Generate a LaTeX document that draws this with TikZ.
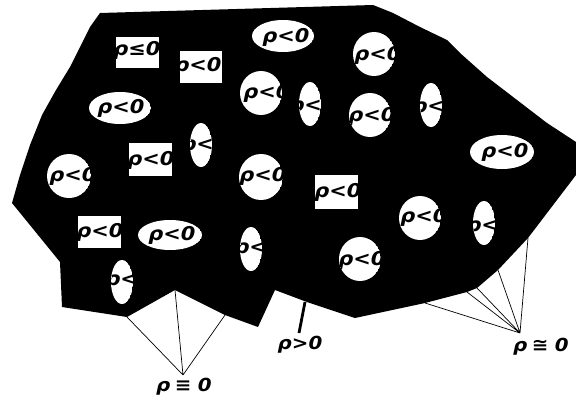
\documentclass[tikz,border=0pt]{standalone}
\usepackage{fontspec}
\usepackage{graphicx}
\newfontfamily\labfont{DejaVu Sans}
\tikzset{
  txt/.style={inner sep=0pt, font=\labfont\bfseries\itshape\fontsize{19}{19}\selectfont},
  lab/.style={inner sep=0pt, font=\labfont\bfseries\itshape\fontsize{18}{18}\selectfont},
  thinline/.style={line width=0.7pt},
  thickline/.style={line width=2.8pt}
}
\newcommand\wtext[1]{\scalebox{1.1}[1]{#1}}
% ellipse hole: name, cx, cy, rx, ry, tx, ty, text
\newcommand\holeE[8]{%
  \begin{scope}
    \clip (#2,#3) ellipse [x radius=#4pt, y radius=#5pt];
    \fill[white] (#2,#3) ellipse [x radius=#4pt, y radius=#5pt];
    \node[txt] (#1) at (#6,#7) {\wtext{#8}};
  \end{scope}}
% rectangle hole: name, x1, y1, x2, y2, tx, ty, text
\newcommand\holeR[8]{%
  \begin{scope}
    \clip (#2,#3) rectangle (#4,#5);
    \fill[white] (#2,#3) rectangle (#4,#5);
    \node[txt] (#1) at (#6,#7) {\wtext{#8}};
  \end{scope}}
\begin{document}
\begin{tikzpicture}[x=1pt,y=-1pt]
\useasboundingbox (0,0) rectangle (576,399);
% the black region
\fill[black] (100,13) -- (373,5) -- (393,13) -- (420,27) -- (447,40) -- (460,53)
  -- (487,77) -- (517,100) -- (547,123) -- (576,142) -- (576,175) -- (528,238)
  -- (498,270) -- (477,288) -- (467,292) -- (425,303) -- (355,318) -- (307,302)
  -- (275,290) -- (258,327) -- (225,315) -- (175,290) -- (127,317) -- (62,307)
  -- (60,262) -- (12,203) -- (20,175) -- (30,145) -- (42,115) -- (56,90) -- (70,67)
  -- (82,43) -- (90,27) -- cycle;
% holes
\holeR{h1}{116}{37}{159}{68}{137}{50}{ρ≤0}
\holeR{h2}{180}{51}{222}{83}{198}{66}{ρ<0}
\holeE{h3}{120}{108}{31}{16}{121}{108}{ρ<0}
\holeE{h4}{283}{36}{31}{16}{286}{37}{ρ<0}
\holeE{h5}{261}{93}{21}{22}{267}{93}{ρ<0}
\holeE{h6}{201}{145}{11}{22}{205}{145}{ρ<0}
\holeR{h7}{129}{143}{172}{176}{151}{160}{ρ<0}
\holeE{h8}{69}{176}{22}{22}{73}{176}{ρ<0}
\holeE{h9}{261}{177}{22}{23}{263}{176}{ρ<0}
\holeE{h10}{374}{54}{21}{22}{378}{55}{ρ<0}
\holeE{h11}{310}{104}{11}{22}{313}{106}{ρ<0}
\holeE{h12}{370}{115}{21}{22}{372}{116}{ρ<0}
\holeE{h13}{431}{105}{11}{22}{436}{107}{ρ<0}
\holeE{h14}{502}{152}{32}{17}{505}{152}{ρ<0}
\holeR{h15}{315}{175}{358}{209}{338}{192}{ρ<0}
\holeR{h16}{78}{216}{121}{248}{100}{232}{ρ<0}
\holeE{h17}{170}{235}{32}{15}{172}{235}{ρ<0}
\holeE{h18}{251}{249}{11}{22}{258}{248}{ρ<0}
\holeE{h19}{122}{282}{11}{22}{129}{280}{ρ<0}
\holeE{h20}{420}{218}{21}{22}{424}{217}{ρ<0}
\holeE{h21}{484}{223}{11}{22}{490}{226}{ρ<0}
\holeE{h22}{360}{259}{21}{22}{362}{260}{ρ<0}
% connector end points
\coordinate (L1) at (127,317);
\coordinate (L2) at (175,290);
\coordinate (L3) at (225,315);
\coordinate (P1) at (183,375);
\coordinate (R1) at (425,303);
\coordinate (R2) at (467,292);
\coordinate (R3) at (477,288);
\coordinate (R4) at (498,270);
\coordinate (R5) at (528,238);
\coordinate (P2) at (520,333);
\coordinate (Q0) at (305,302);
\coordinate (Q1) at (299,333);
\draw[thinline] (L1) -- (P1) (L2) -- (P1) (L3) -- (P1);
\draw[thinline] (R1) -- (P2) (R2) -- (P2) (R3) -- (P2) (R4) -- (P2) (R5) -- (P2);
\draw[thickline] (Q0) -- (Q1);
% labels
\node[lab] (lpos) at (300,345) {\wtext{ρ>0}};
\node[lab] (lzero1) at (184,387) {\wtext{ρ\hspace{4pt}≡\hspace{6pt}0}};
\node[lab] (lzero2) at (541,347) {\wtext{ρ\hspace{4pt}≅\hspace{6pt}0}};
\end{tikzpicture}
\end{document}
